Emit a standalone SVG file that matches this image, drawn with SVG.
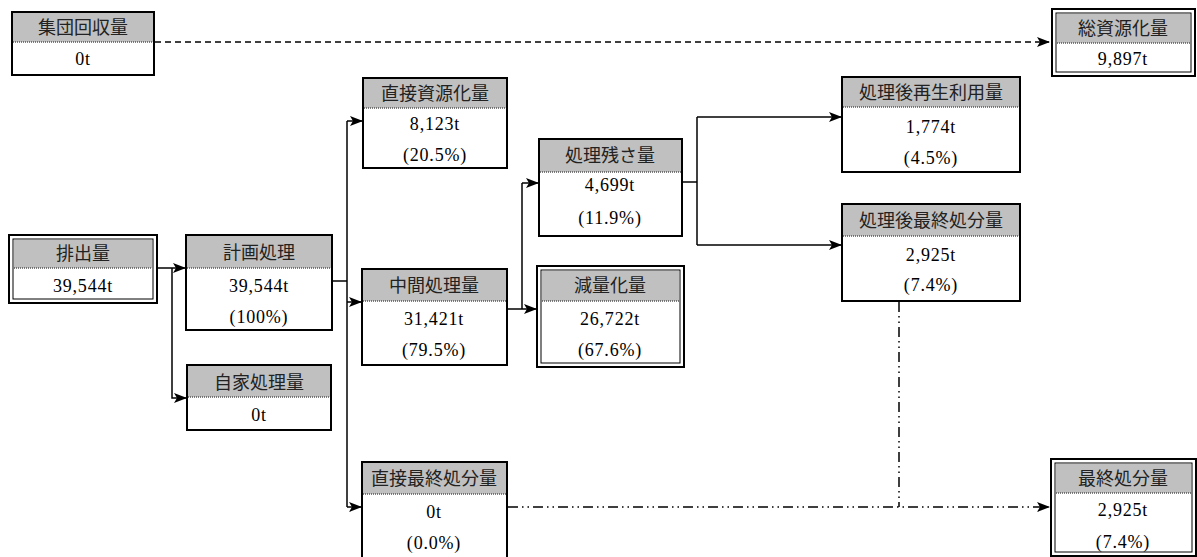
<svg xmlns="http://www.w3.org/2000/svg" width="1197" height="557" viewBox="0 0 1197 557">
<defs>
<style>
.box{fill:#fff;stroke:#000;stroke-width:2}
.inner{fill:none;stroke:#000;stroke-width:1}
.hd{fill:#c0c0c0;stroke:none}
.sep{stroke:#555;stroke-width:1.5;stroke-dasharray:1,1}
.ht{font-family:"Noto Sans CJK JP",sans-serif;font-size:18px;fill:#222;text-anchor:middle}
.bt{font-family:"Liberation Serif","Noto Sans CJK JP",serif;font-size:18px;fill:#000;text-anchor:middle;letter-spacing:0.8px}
.ln{fill:none;stroke:#000;stroke-width:1.5}
.dash{stroke-dasharray:6,4}
.dd{stroke-dasharray:10,4,1.5,4,1.5,4}
</style>
<marker id="ar" markerWidth="13" markerHeight="10" refX="12" refY="5" orient="auto" markerUnits="userSpaceOnUse">
<path d="M0,0 L13,5 L0,10 L3,5 z" fill="#000"/>
</marker>
</defs>

<g id="connectors">
<path class="ln dash" d="M155,42 H1049" marker-end="url(#ar)"/>
<path class="ln" d="M157,268 H185" marker-end="url(#ar)"/>
<path class="ln" d="M172,268 V398 H186" marker-end="url(#ar)"/>
<path class="ln" d="M332,281 H347"/>
<path class="ln" d="M347,121 V507"/>
<path class="ln" d="M347,121 H362" marker-end="url(#ar)"/>
<path class="ln" d="M347,302 H361" marker-end="url(#ar)"/>
<path class="ln" d="M347,507 H361" marker-end="url(#ar)"/>
<path class="ln" d="M507,309 H522"/>
<path class="ln" d="M522,183 V309"/>
<path class="ln" d="M522,183 H538" marker-end="url(#ar)"/>
<path class="ln" d="M522,309 H536" marker-end="url(#ar)"/>
<path class="ln" d="M682,182 H697"/>
<path class="ln" d="M697,117 V245"/>
<path class="ln" d="M697,117 H841" marker-end="url(#ar)"/>
<path class="ln" d="M697,245 H841" marker-end="url(#ar)"/>
<path class="ln dd" d="M508,507 H1049" marker-end="url(#ar)"/>
<path class="ln dd" d="M899,302 V507"/>
</g>

<g id="n-shudan">
<rect class="box" x="12" y="12" width="142" height="63"/>
<rect class="hd" x="13" y="13" width="140" height="29"/>
<line class="sep" x1="13" y1="42" x2="153" y2="42"/>
<text class="ht" x="83" y="34">集団回収量</text>
<text class="bt" x="83" y="65">0t</text>
</g>

<g id="n-soshigenka">
<rect class="box" x="1052" y="9" width="143" height="67"/>
<rect class="inner" x="1056" y="13" width="135" height="59"/>
<rect class="hd" x="1057" y="14" width="133" height="29"/>
<line class="sep" x1="1057" y1="43" x2="1190" y2="43"/>
<text class="ht" x="1123" y="35">総資源化量</text>
<text class="bt" x="1123" y="65">9,897t</text>
</g>

<g id="n-haishutsu">
<rect class="box" x="9" y="235" width="148" height="68"/>
<rect class="inner" x="13" y="239" width="140" height="60"/>
<rect class="hd" x="14" y="240" width="138" height="28"/>
<line class="sep" x1="14" y1="268" x2="152" y2="268"/>
<text class="ht" x="83" y="260">排出量</text>
<text class="bt" x="83" y="292">39,544t</text>
</g>

<g id="n-keikaku">
<rect class="box" x="186" y="235" width="146" height="95"/>
<rect class="hd" x="187" y="236" width="144" height="32"/>
<line class="sep" x1="187" y1="268" x2="331" y2="268"/>
<text class="ht" x="259" y="259">計画処理</text>
<text class="bt" x="259" y="292">39,544t</text>
<text class="bt" x="259" y="323">(100%)</text>
</g>

<g id="n-jika">
<rect class="box" x="187" y="365" width="144" height="65"/>
<rect class="hd" x="188" y="366" width="142" height="31"/>
<line class="sep" x1="188" y1="397" x2="330" y2="397"/>
<text class="ht" x="259" y="389">自家処理量</text>
<text class="bt" x="259" y="421">0t</text>
</g>

<g id="n-chokusetsu-shigen">
<rect class="box" x="363" y="78" width="144" height="90"/>
<rect class="hd" x="364" y="79" width="142" height="29"/>
<line class="sep" x1="364" y1="108" x2="506" y2="108"/>
<text class="ht" x="435" y="100">直接資源化量</text>
<text class="bt" x="435" y="130">8,123t</text>
<text class="bt" x="435" y="161">(20.5%)</text>
</g>

<g id="n-chukan">
<rect class="box" x="362" y="269" width="145" height="96"/>
<rect class="hd" x="363" y="270" width="143" height="31"/>
<line class="sep" x1="363" y1="301" x2="506" y2="301"/>
<text class="ht" x="434" y="292">中間処理量</text>
<text class="bt" x="434" y="325">31,421t</text>
<text class="bt" x="434" y="356">(79.5%)</text>
</g>

<g id="n-zansa">
<rect class="box" x="539" y="139" width="143" height="97"/>
<rect class="hd" x="540" y="140" width="141" height="32"/>
<line class="sep" x1="540" y1="172" x2="681" y2="172"/>
<text class="ht" x="610" y="162">処理残さ量</text>
<text class="bt" x="610" y="191">4,699t</text>
<text class="bt" x="610" y="224">(11.9%)</text>
</g>

<g id="n-genryo">
<rect class="box" x="537" y="266" width="147" height="101"/>
<rect class="inner" x="541" y="270" width="139" height="93"/>
<rect class="hd" x="542" y="271" width="137" height="30"/>
<line class="sep" x1="542" y1="301" x2="679" y2="301"/>
<text class="ht" x="610" y="292">減量化量</text>
<text class="bt" x="610" y="325">26,722t</text>
<text class="bt" x="610" y="356">(67.6%)</text>
</g>

<g id="n-saisei">
<rect class="box" x="842" y="77" width="178" height="95"/>
<rect class="hd" x="843" y="78" width="176" height="29"/>
<line class="sep" x1="843" y1="107" x2="1019" y2="107"/>
<text class="ht" x="931" y="99">処理後再生利用量</text>
<text class="bt" x="931" y="133">1,774t</text>
<text class="bt" x="931" y="164">(4.5%)</text>
</g>

<g id="n-shorigo-saishu">
<rect class="box" x="842" y="204" width="178" height="97"/>
<rect class="hd" x="843" y="205" width="176" height="31"/>
<line class="sep" x1="843" y1="236" x2="1019" y2="236"/>
<text class="ht" x="931" y="227">処理後最終処分量</text>
<text class="bt" x="931" y="261">2,925t</text>
<text class="bt" x="931" y="291">(7.4%)</text>
</g>

<g id="n-chokusetsu-saishu">
<rect class="box" x="362" y="462" width="145" height="100"/>
<rect class="hd" x="363" y="463" width="143" height="31"/>
<line class="sep" x1="363" y1="494" x2="506" y2="494"/>
<text class="ht" x="434" y="485">直接最終処分量</text>
<text class="bt" x="434" y="518">0t</text>
<text class="bt" x="434" y="549">(0.0%)</text>
</g>

<g id="n-saishu">
<rect class="box" x="1051" y="459" width="145" height="97"/>
<rect class="inner" x="1055" y="463" width="137" height="89"/>
<rect class="hd" x="1056" y="464" width="135" height="29"/>
<line class="sep" x1="1056" y1="493" x2="1191" y2="493"/>
<text class="ht" x="1123" y="485">最終処分量</text>
<text class="bt" x="1123" y="516">2,925t</text>
<text class="bt" x="1123" y="548">(7.4%)</text>
</g>
</svg>
